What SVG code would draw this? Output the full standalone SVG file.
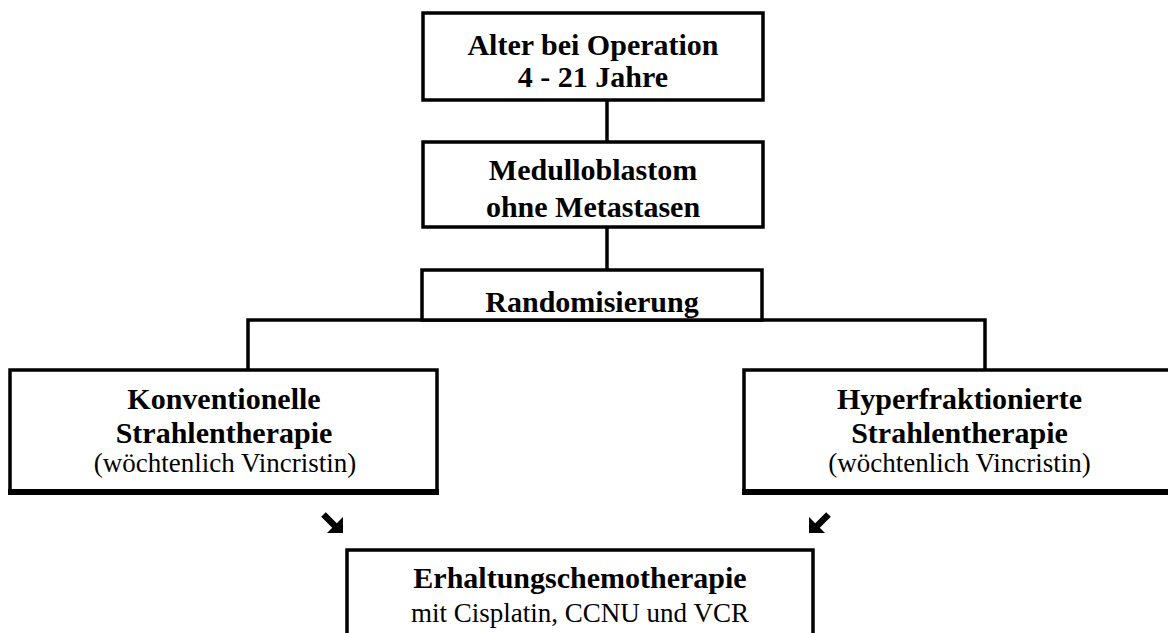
<svg xmlns="http://www.w3.org/2000/svg" width="1168" height="633" viewBox="0 0 1168 633">
<style>
.box{fill:#fff;stroke:#000;stroke-width:3.5}
.con{stroke:#000;stroke-width:3.5;fill:none}
.b{font-family:"Liberation Serif","Times New Roman",serif;font-weight:bold;font-size:30px;text-anchor:middle;fill:#000}
.r{font-family:"Liberation Serif","Times New Roman",serif;font-size:27px;text-anchor:middle;fill:#000}
.shadow{stroke:#000;stroke-width:6}
</style>
<rect width="1168" height="633" fill="#fff"/>
<g id="connectors">
<line class="con" x1="607" y1="100" x2="607" y2="142"/>
<line class="con" x1="607" y1="227" x2="607" y2="270"/>
<polyline class="con" points="248,370 248,320 985,320 985,370"/>
</g>
<g id="n1">
<rect class="box" x="423" y="13" width="340" height="87"/>
<text class="b" x="593" y="55">Alter bei Operation</text>
<text class="b" x="593" y="87">4 - 21 Jahre</text>
</g>
<g id="n2">
<rect class="box" x="423" y="142" width="340" height="85"/>
<text class="b" x="593" y="180">Medulloblastom</text>
<text class="b" x="593" y="217">ohne Metastasen</text>
</g>
<g id="n3">
<rect class="box" x="422" y="270" width="340" height="50"/>
<text class="b" x="592" y="312">Randomisierung</text>
</g>
<g id="n4">
<rect class="box" x="10" y="370" width="427" height="122"/>
<line class="shadow" x1="8" y1="492" x2="439" y2="492"/>
<text class="b" x="224" y="409">Konventionelle</text>
<text class="b" x="224" y="443">Strahlentherapie</text>
<text class="r" x="225" y="472">(wöchtenlich Vincristin)</text>
</g>
<g id="n5">
<rect class="box" x="744" y="370" width="431" height="122"/>
<line class="shadow" x1="742" y1="492" x2="1175" y2="492"/>
<text class="b" x="959.5" y="409">Hyperfraktionierte</text>
<text class="b" x="959.5" y="443">Strahlentherapie</text>
<text class="r" x="959.5" y="472">(wöchtenlich Vincristin)</text>
</g>
<g id="arrows">
<g transform="translate(321,512)">
<line x1="2.5" y1="2.5" x2="14" y2="14" stroke="#000" stroke-width="6.5"/>
<polygon points="22,5 22,21 6,21" fill="#000"/>
</g>
<g transform="translate(809,512)">
<line x1="19.5" y1="2.5" x2="8" y2="14" stroke="#000" stroke-width="6.5"/>
<polygon points="0,5 0,21 16,21" fill="#000"/>
</g>
</g>
<g id="n6">
<rect class="box" x="347" y="550" width="466" height="100"/>
<text class="b" x="580" y="588">Erhaltungschemotherapie</text>
<text class="r" x="580" y="622">mit Cisplatin, CCNU und VCR</text>
</g>
</svg>
